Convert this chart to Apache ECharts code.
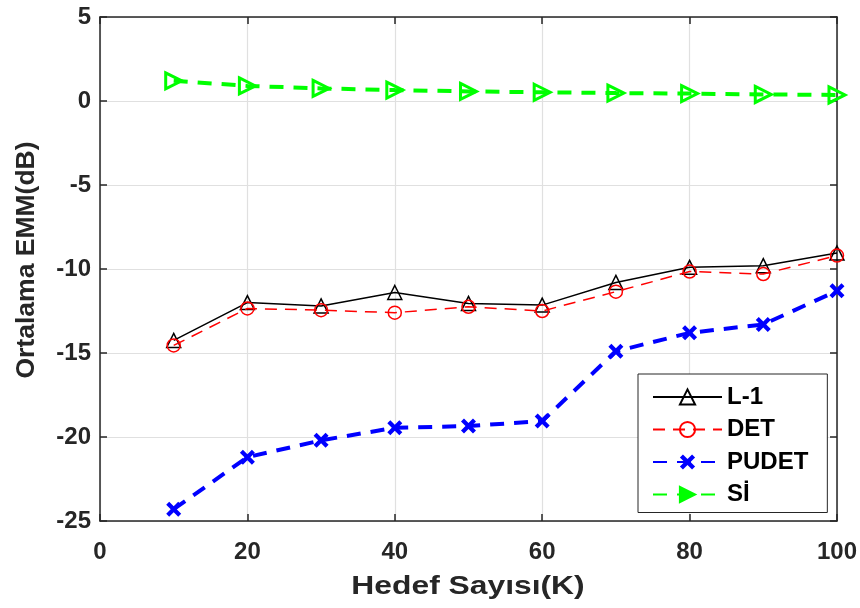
<!DOCTYPE html>
<html>
<head>
<meta charset="utf-8">
<script src="https://cdn.jsdelivr.net/npm/echarts@6/dist/echarts.min.js"></script>
<style>
  html, body { margin: 0; padding: 0; background: #fff; }
  #chart { width: 860px; height: 608px; }
</style>
</head>
<body>
<div id="chart"></div>
<script>
// Number of targets K
const targetCounts = [10, 20, 30, 40, 50, 60, 70, 80, 90, 100];

// Mean EMM (dB) per method
const l1Values    = [-14.25, -12.0, -12.2, -11.4, -12.05, -12.15, -10.8, -9.9, -9.8, -9.05];
const detValues   = [-14.55, -12.35, -12.45, -12.6, -12.25, -12.5, -11.35, -10.15, -10.3, -9.2];
const pudetValues = [-24.3, -21.2, -20.2, -19.45, -19.35, -19.05, -14.9, -13.8, -13.3, -11.3];
const siValues    = [1.2, 0.9, 0.75, 0.65, 0.57, 0.52, 0.47, 0.44, 0.39, 0.36];

const seriesNames = ['L-1', 'DET', 'PUDET', 'S\u0130'];
const xAxisTitle = 'Hedef Say\u0131s\u0131(K)';
const yAxisTitle = 'Ortalama EMM(dB)';

const xTicks = { min: 0, max: 100, interval: 20 };
const yTicks = { min: -25, max: 5, interval: 5 };

const pair = vals => targetCounts.map((k, i) => [k, vals[i]]);

const axisColor = '#262626';
const fontFamily = '"Liberation Sans", Arial, sans-serif';
const clear = 'rgba(0,0,0,0)';

const crossPath = 'path://M2,0 L5,3 L8,0 L10,2 L7,5 L10,8 L8,10 L5,7 L2,10 L0,8 L3,5 L0,2 Z';
const rightTriPath = 'path://M0,0 L10,5 L0,10 Z';

const chart = echarts.init(document.getElementById('chart'), null, { renderer: 'canvas' });

const tickStyle = { show: true, inside: true, length: 7, lineStyle: { color: axisColor, width: 1.5 } };
const lineStyleAxis = { show: true, onZero: false, lineStyle: { color: axisColor, width: 1.5 } };
const gridLines = { show: true, lineStyle: { color: '#e0e0e0', width: 1.2 } };

const baseX = { type: 'value', min: xTicks.min, max: xTicks.max, interval: xTicks.interval,
  axisLine: lineStyleAxis, axisTick: tickStyle };
const baseY = { type: 'value', min: yTicks.min, max: yTicks.max, interval: yTicks.interval,
  axisLine: lineStyleAxis, axisTick: tickStyle };

chart.setOption({
  backgroundColor: '#fff',
  animation: false,
  grid: { left: 100, right: 23, top: 17, bottom: 87, containLabel: false },
  legend: {
    orient: 'vertical',
    left: 638, top: 374,
    padding: [11, 19, 6, 14],
    backgroundColor: '#fff',
    borderColor: axisColor,
    borderWidth: 1,
    itemWidth: 69,
    itemHeight: 19,
    itemGap: 8.5,
    textStyle: { fontFamily, fontSize: 24, fontWeight: 'bold', color: '#000' },
    data: [
      { name: seriesNames[0] },
      { name: seriesNames[1] },
      { name: seriesNames[2] },
      { name: seriesNames[3], itemStyle: { color: '#00ff00' } }
    ]
  },
  graphic: [
    {
      // x-axis title, centred under the plot area
      type: 'text',
      x: 468,
      y: 587,
      scaleX: 1.2,
      style: {
        text: xAxisTitle,
        font: 'bold 26.5px ' + fontFamily,
        fill: axisColor,
        align: 'center',
        verticalAlign: 'middle'
      }
    }
  ],
  xAxis: [
    Object.assign({}, baseX, {
      position: 'bottom',
      axisLabel: { fontFamily, fontSize: 24, fontWeight: 'bold', color: axisColor, margin: 19 },
      splitLine: gridLines
    }),
    Object.assign({}, baseX, { position: 'top', axisLabel: { show: false }, splitLine: { show: false } })
  ],
  yAxis: [
    Object.assign({}, baseY, {
      position: 'left',
      name: yAxisTitle,
      nameLocation: 'middle',
      nameGap: 60,
      nameTextStyle: { fontFamily, fontSize: 26.5, fontWeight: 'bold', color: axisColor, padding: [0, 0, 0, 18] },
      axisLabel: { fontFamily, fontSize: 24, fontWeight: 'bold', color: axisColor, margin: 9 },
      splitLine: gridLines
    }),
    Object.assign({}, baseY, { position: 'right', axisLabel: { show: false }, splitLine: { show: false } })
  ],
  series: [
    {
      name: seriesNames[0], type: 'line', data: pair(l1Values),
      symbol: 'triangle', symbolSize: 14,
      itemStyle: { color: clear, borderColor: '#000', borderWidth: 1.5 },
      lineStyle: { color: '#000', width: 1.5, type: 'solid' },
      z: 3
    },
    {
      name: seriesNames[1], type: 'line', data: pair(detValues),
      symbol: 'circle', symbolSize: 13,
      itemStyle: { color: clear, borderColor: '#ff0000', borderWidth: 1.5 },
      lineStyle: { color: '#ff0000', width: 1.5, type: [12, 8] },
      z: 4
    },
    {
      name: seriesNames[2], type: 'line', data: pair(pudetValues),
      symbol: crossPath, symbolSize: 15,
      itemStyle: { color: '#0000ff', borderWidth: 0 },
      lineStyle: { color: '#0000ff', width: 4, type: [14, 10] },
      z: 5
    },
    {
      name: seriesNames[3], type: 'line', data: pair(siValues),
      symbol: rightTriPath, symbolSize: 16,
      itemStyle: { color: clear, borderColor: '#00ff00', borderWidth: 3 },
      lineStyle: { color: '#00ff00', width: 4, type: [14, 10] },
      z: 5
    }
  ]
});
</script>
</body>
</html>
